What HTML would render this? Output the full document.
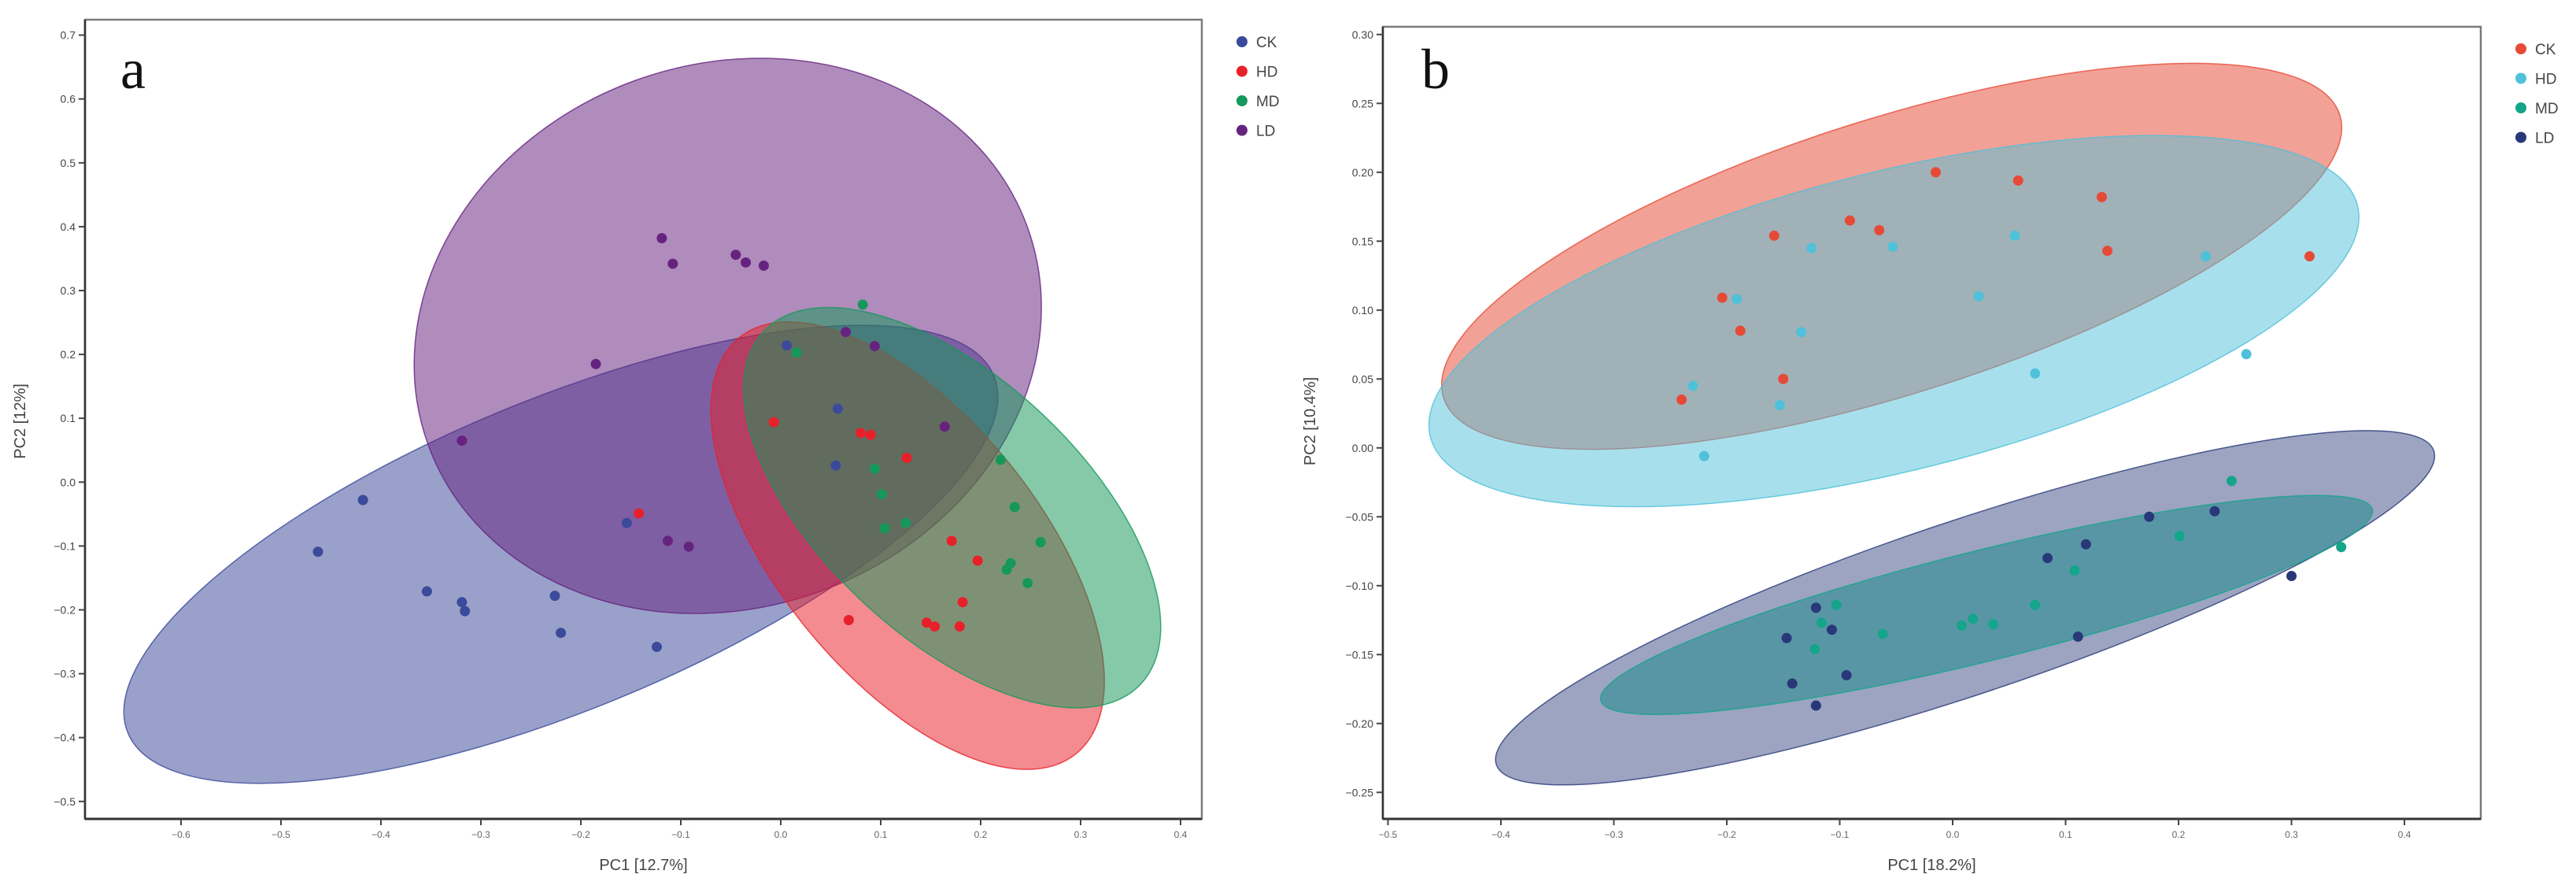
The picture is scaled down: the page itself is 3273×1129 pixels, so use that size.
<!DOCTYPE html>
<html><head><meta charset="utf-8"><style>
html,body{margin:0;padding:0;background:#fff;}
svg{display:block;font-family:"Liberation Sans",Arial,sans-serif;}
</style></head><body>
<svg id="fig" width="3273" height="1129" viewBox="0 0 3273 1129" xmlns="http://www.w3.org/2000/svg"></svg>
<script>
// ---------- Panel a data ----------
const aGroups = ["CK","HD","MD","LD"];
const aColors = ["#3b4a9a","#e8202a","#15985a","#65237f"];
const aXTicks = [-0.6,-0.5,-0.4,-0.3,-0.2,-0.1,0.0,0.1,0.2,0.3,0.4];
const aYTicks = [0.7,0.6,0.5,0.4,0.3,0.2,0.1,0.0,-0.1,-0.2,-0.3,-0.4,-0.5];
const aCKx = [-0.463,-0.418,-0.354,-0.319,-0.316,-0.226,-0.220,-0.124,-0.154,0.006,0.057,0.055];
const aCKy = [-0.109,-0.028,-0.171,-0.188,-0.202,-0.178,-0.236,-0.258,-0.064,0.214,0.115,0.026];
const aHDx = [-0.142,-0.007,0.080,0.090,0.126,0.171,0.197,0.182,0.068,0.146,0.154,0.179];
const aHDy = [-0.049,0.094,0.077,0.074,0.038,-0.092,-0.123,-0.188,-0.216,-0.220,-0.226,-0.226];
const aMDx = [0.082,0.016,0.094,0.101,0.104,0.125,0.220,0.234,0.260,0.230,0.226,0.247];
const aMDy = [0.278,0.203,0.021,-0.019,-0.072,-0.064,0.035,-0.039,-0.094,-0.127,-0.137,-0.158];
const aLDx = [-0.119,-0.108,-0.045,-0.035,-0.017,-0.185,-0.319,0.065,0.094,0.164,-0.113,-0.092];
const aLDy = [0.382,0.342,0.356,0.344,0.339,0.185,0.065,0.235,0.213,0.087,-0.092,-0.101];
const aEllGroup = ["CK","LD","HD","MD"];
const aEllCx = [-0.220,-0.053,0.127,0.1715];
const aEllCy = [-0.113,0.229,-0.0995,-0.040];
const aEllA = [595,405,340,328];
const aEllB = [197,345,166,165];
const aEllRot = [-22.4,-20,51,43];

// ---------- Panel b data ----------
const bGroups = ["CK","HD","MD","LD"];
const bColors = ["#e64a36","#4fc1da","#14a58a","#283878"];
const bXTicks = [-0.5,-0.4,-0.3,-0.2,-0.1,0.0,0.1,0.2,0.3,0.4];
const bYTicks = [0.30,0.25,0.20,0.15,0.10,0.05,0.00,-0.05,-0.10,-0.15,-0.20,-0.25];
const bCKx = [-0.015,0.058,0.132,0.137,0.316,-0.091,-0.065,-0.158,-0.204,-0.188,-0.150,-0.240];
const bCKy = [0.200,0.194,0.182,0.143,0.139,0.165,0.158,0.154,0.109,0.085,0.050,0.035];
const bHDx = [-0.125,-0.053,0.055,0.224,-0.191,0.023,-0.134,0.260,0.073,-0.230,-0.153,-0.220];
const bHDy = [0.145,0.146,0.154,0.139,0.108,0.110,0.084,0.068,0.054,0.045,0.031,-0.006];
const bMDx = [0.247,0.201,0.344,0.108,0.073,-0.103,-0.116,-0.062,-0.122,0.018,0.008,0.036];
const bMDy = [-0.024,-0.064,-0.072,-0.089,-0.114,-0.114,-0.127,-0.135,-0.146,-0.124,-0.129,-0.128];
const bLDx = [0.174,0.232,0.118,0.084,0.300,-0.121,-0.107,0.111,-0.147,-0.142,-0.094,-0.121];
const bLDy = [-0.050,-0.046,-0.070,-0.080,-0.093,-0.116,-0.132,-0.137,-0.138,-0.171,-0.165,-0.187];
const bEllGroup = ["CK","HD","LD","MD"];
const bEllCx = [-0.054,-0.052,0.011,0.030];
const bEllCy = [0.139,0.092,-0.116,-0.114];
const bEllA = [597,607,628,505];
const bEllB = [175,190,110,70];
const bEllRot = [-17.5,-14,-18.5,-13.9];

const NS="http://www.w3.org/2000/svg";
const svg=document.getElementById("fig");
function mk(tag,attrs,parent){const e=document.createElementNS(NS,tag);for(const k in attrs)e.setAttribute(k,attrs[k]);(parent||svg).appendChild(e);return e;}

function drawPanel(p){
  const g=mk("g",{});
  
  
  const sx=v=>p.x0+v*p.xs, sy=v=>p.y0-v*p.ys;
  for(let i=0;i<p.eg.length;i++){
    const base=p.colors[p.groups.indexOf(p.eg[i])];
    const c=(p.efill&&p.efill[i])||base;
    const op=(p.eop&&p.eop[i])||0.52;
    const cx=sx(p.ecx[i]), cy=sy(p.ecy[i]);
    const e=mk("ellipse",{cx:cx,cy:cy,rx:p.ea[i],ry:p.eb[i],transform:`rotate(${p.er[i]} ${cx} ${cy})`,fill:c,"fill-opacity":op,stroke:base,"stroke-opacity":0.8,"stroke-width":1.5},g);
    
    
  }
  const fr=mk("rect",{x:p.L,y:p.T,width:p.R-p.L,height:p.B-p.T,fill:"none",stroke:"#7a7a7a","stroke-width":2.5},g);
  
  
  const ya=mk("line",{x1:p.L,y1:p.T,x2:p.L,y2:p.B,stroke:"#333","stroke-width":2.5},g);
  
  
  const xa=mk("line",{x1:p.L,y1:p.B,x2:p.R,y2:p.B,stroke:"#333","stroke-width":3},g);
  
  
  p.yt.forEach(v=>{
    const y=sy(v);
    mk("line",{x1:p.L-8,y1:y,x2:p.L,y2:y,stroke:"#444","stroke-width":2},g);
    const t=mk("text",{x:p.L-12,y:y+5,"text-anchor":"end","font-size":14,fill:"#444"},g);
    t.textContent=v.toFixed(p.yd).replace("-","−");
    
    
  });
  p.xt.forEach(v=>{
    const x=sx(v);
    mk("line",{x1:x,y1:p.B,x2:x,y2:p.B+8,stroke:"#444","stroke-width":2},g);
    const t=mk("text",{x:x,y:p.B+24,"text-anchor":"middle","font-size":12,fill:"#666"},g);
    t.textContent=v.toFixed(1).replace("-","−");
    
    
  });
  for(let k=0;k<p.groups.length;k++){
    const xs=p.px[k], ys=p.py[k];
    for(let i=0;i<xs.length;i++){
      const d=mk("circle",{cx:sx(xs[i]),cy:sy(ys[i]),r:6.5,fill:p.colors[k]},g);
      
      
    }
  }
  for(let k=0;k<p.groups.length;k++){
    const y=p.legY+k*37.5;
    const d=mk("circle",{cx:p.legX,cy:y,r:7,fill:p.colors[k]},g);
    
    
    const t=mk("text",{x:p.legX+18,y:y+7,"font-size":19,fill:"#444"},g);
    t.textContent=p.groups[k];
    
    
  }
  const xt=mk("text",{x:(p.L+p.R)/2,y:1105,"text-anchor":"middle","font-size":20,fill:"#444"},g);
  xt.textContent=p.xTitle;
  
  
  const ytx=p.yTitleX, yty=535;
  const yt=mk("text",{x:ytx,y:yty,"text-anchor":"middle","font-size":20,fill:"#444",transform:`rotate(-90 ${ytx} ${yty})`},g);
  yt.textContent=p.yTitle;
  
  
  const lab=mk("text",{x:p.labX,y:112,"font-family":"'Liberation Serif',serif","font-size":72,fill:"#111"},g);
  lab.textContent=p.label;
  
  
}

drawPanel({name:"panel-a",L:108,R:1527,T:25,B:1040,x0:992,xs:1270,y0:612.3,ys:811,
  groups:aGroups,colors:aColors,xt:aXTicks,yt:aYTicks,yd:1,
  px:[aCKx,aHDx,aMDx,aLDx],py:[aCKy,aHDy,aMDy,aLDy],
  eg:aEllGroup,ecx:aEllCx,ecy:aEllCy,ea:aEllA,eb:aEllB,er:aEllRot,
  legX:1578,legY:53,xTitle:"PC1 [12.7%]",yTitle:"PC2 [12%]",yTitleX:32,labX:153,label:"a"});
drawPanel({name:"panel-b",L:1757,R:3152,T:34,B:1040,x0:2481,xs:1435,y0:568.8,ys:1750,
  groups:bGroups,colors:bColors,xt:bXTicks,yt:bYTicks,yd:2,
  px:[bCKx,bHDx,bMDx,bLDx],py:[bCKy,bHDy,bMDy,bLDy],
  eg:bEllGroup,ecx:bEllCx,ecy:bEllCy,ea:bEllA,eb:bEllB,er:bEllRot,
  efill:[null,null,null,"#208a90"],eop:[0.52,0.5,0.46,0.55],
  legX:3203,legY:62,xTitle:"PC1 [18.2%]",yTitle:"PC2 [10.4%]",yTitleX:1671,labX:1806,label:"b"});
</script>
</body></html>
